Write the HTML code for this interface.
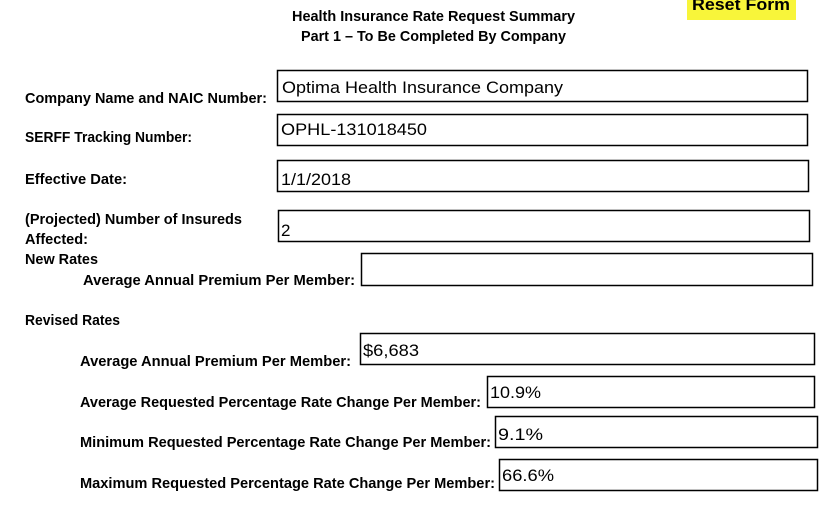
<!DOCTYPE html>
<html><head><meta charset="utf-8"><style>
html,body{margin:0;padding:0;background:#fff;}
svg{display:block;}
.l{font-family:"Liberation Sans",sans-serif;font-weight:bold;font-size:15px;fill:#000;}
.v{font-family:"Liberation Sans",sans-serif;font-size:17px;fill:#000;}
rect.b{fill:#fff;stroke:#000;stroke-width:1.5;}
</style></head><body>
<svg width="823" height="509" viewBox="0 0 823 509" xmlns="http://www.w3.org/2000/svg">
<rect x="687" y="0" width="109" height="20" fill="#f8f53a"/>
<text x="692" y="10" font-family="Liberation Sans,sans-serif" font-weight="bold" font-size="17" textLength="98" lengthAdjust="spacingAndGlyphs">Reset Form</text>
<text class="l" x="292" y="21" textLength="283" lengthAdjust="spacingAndGlyphs">Health Insurance Rate Request Summary</text>
<text class="l" x="301" y="41" textLength="265" lengthAdjust="spacingAndGlyphs">Part 1 – To Be Completed By Company</text>

<rect class="b" x="277.5" y="70.5" width="530" height="31"/>
<rect class="b" x="277.5" y="114.5" width="530" height="31"/>
<rect class="b" x="277.5" y="160.5" width="531" height="31"/>
<rect class="b" x="278.5" y="210.5" width="531" height="31"/>
<rect class="b" x="361.5" y="253.5" width="451" height="32"/>
<rect class="b" x="360.5" y="333.5" width="454" height="31"/>
<rect class="b" x="487.5" y="376.5" width="327" height="31"/>
<rect class="b" x="495.5" y="416.5" width="322" height="31"/>
<rect class="b" x="499.5" y="459.5" width="318" height="31"/>

<text class="l" x="25" y="103" textLength="242" lengthAdjust="spacingAndGlyphs">Company Name and NAIC Number:</text>
<text class="l" x="25" y="142" textLength="167" lengthAdjust="spacingAndGlyphs">SERFF Tracking Number:</text>
<text class="l" x="25" y="184" textLength="102" lengthAdjust="spacingAndGlyphs">Effective Date:</text>
<text class="l" x="25" y="224" textLength="217" lengthAdjust="spacingAndGlyphs">(Projected) Number of Insureds</text>
<text class="l" x="25" y="244" textLength="63" lengthAdjust="spacingAndGlyphs">Affected:</text>
<text class="l" x="25" y="264" textLength="73" lengthAdjust="spacingAndGlyphs">New Rates</text>
<text class="l" x="83" y="285" textLength="272" lengthAdjust="spacingAndGlyphs">Average Annual Premium Per Member:</text>
<text class="l" x="25" y="325" textLength="95" lengthAdjust="spacingAndGlyphs">Revised Rates</text>
<text class="l" x="80" y="366" textLength="271" lengthAdjust="spacingAndGlyphs">Average Annual Premium Per Member:</text>
<text class="l" x="80" y="407" textLength="401" lengthAdjust="spacingAndGlyphs">Average Requested Percentage Rate Change Per Member:</text>
<text class="l" x="80" y="447" textLength="411" lengthAdjust="spacingAndGlyphs">Minimum Requested Percentage Rate Change Per Member:</text>
<text class="l" x="80" y="488" textLength="415" lengthAdjust="spacingAndGlyphs">Maximum Requested Percentage Rate Change Per Member:</text>

<text class="v" x="282" y="93" textLength="281" lengthAdjust="spacingAndGlyphs">Optima Health Insurance Company</text>
<text class="v" x="281" y="135" textLength="146" lengthAdjust="spacingAndGlyphs">OPHL-131018450</text>
<text class="v" x="281" y="185" textLength="70" lengthAdjust="spacingAndGlyphs">1/1/2018</text>
<text class="v" x="281" y="236">2</text>
<text class="v" x="363" y="356" textLength="56" lengthAdjust="spacingAndGlyphs">$6,683</text>
<text class="v" x="490" y="398" textLength="51" lengthAdjust="spacingAndGlyphs">10.9%</text>
<text class="v" x="498" y="440" textLength="45" lengthAdjust="spacingAndGlyphs">9.1%</text>
<text class="v" x="502" y="481" textLength="52" lengthAdjust="spacingAndGlyphs">66.6%</text>
</svg>
</body></html>
